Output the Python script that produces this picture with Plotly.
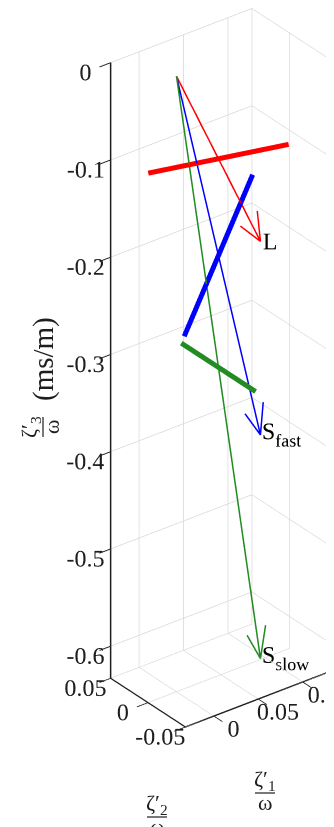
import numpy as np
import plotly.graph_objects as go

# ---------------- data ----------------
modes = ["L", "S<sub>fast</sub>", "S<sub>slow</sub>"]
zeta1 = [0.0945, 0.0945, 0.0945]       # ζ1'/ω of slowness tips
zeta2 = [0.0, 0.0, 0.0]                # ζ2'/ω
zeta3 = [-0.203, -0.402, -0.632]       # ζ3'/ω
pol1 = [0.079, 0.0385, 0.0]            # half polarization vectors
pol2 = [0.0, 0.0, -0.0497]
pol3 = [-0.0129, 0.0696, 0.0]
x_ticks = [0, 0.05, 0.1]
x_ticktext = ["0", "0.05", "0.1"]
y_ticks = [-0.05, 0, 0.05]
y_ticktext = ["-0.05", "0", "0.05"]
z_ticks = [0, -0.1, -0.2, -0.3, -0.4, -0.5, -0.6]
z_ticktext = ["0", "-0.1", "-0.2", "-0.3", "-0.4", "-0.5", "-0.6"]

# ---------------- style ----------------
colors = ["#ff0000", "#0000ff", "#228b22"]
head_len = 0.031
head_half = 0.0105
FONT = "Liberation Serif"
INK = "rgb(30,30,30)"
W, H = 334, 827

xr = [-0.032, 0.127]
yr = [-0.05, 0.05]
zr = [-0.633, 0.0]
# plot-box proportions (MATLAB default stretch) and zoom
box = np.array([177.3, 122.3, 707.7])
ZOOM = 1.719
asp = ZOOM * box / box[2]
kdat = asp / np.array([xr[1] - xr[0], yr[1] - yr[0], zr[1] - zr[0]])  # normalized per data unit
PPU = 415.0

# view: MATLAB az=-37.5, el=30
az, el = np.radians(-37.5), np.radians(30.0)
E = np.array([np.sin(az) * np.cos(el), -np.cos(az) * np.cos(el), np.sin(el)])
R = np.array([np.cos(az), np.sin(az), 0.0])
U = np.cross(E, R)
C = -(43.3 * R + 53.3 * U) / 410.0
eye = C + 1.6 * E

fig = go.Figure()
for i in range(3):
    tip = np.array([zeta1[i], zeta2[i], zeta3[i]])
    d = tip / np.linalg.norm(tip)
    perp = np.cross(d, [0.0, 1.0, 0.0])
    perp /= np.linalg.norm(perp)
    b1 = tip - head_len * d + head_half * perp
    b2 = tip - head_len * d - head_half * perp
    fig.add_trace(go.Scatter3d(x=[0, tip[0]], y=[0, tip[1]], z=[0, tip[2]],
                               mode="lines", line=dict(color=colors[i], width=3),
                               hoverinfo="skip", showlegend=False))
    fig.add_trace(go.Scatter3d(x=[b1[0], tip[0], b2[0]], y=[b1[1], tip[1], b2[1]],
                               z=[b1[2], tip[2], b2[2]],
                               mode="lines", line=dict(color=colors[i], width=3),
                               hoverinfo="skip", showlegend=False))
    mid = tip / 2
    p = np.array([pol1[i], pol2[i], pol3[i]])
    a, b = mid - p, mid + p
    fig.add_trace(go.Scatter3d(x=[a[0], b[0]], y=[a[1], b[1]], z=[a[2], b[2]],
                               mode="lines", line=dict(color=colors[i], width=10),
                               hoverinfo="skip", showlegend=False))
    # label: pull anchor back along screen-right so text starts at the tip
    lab = tip - (21.0 / PPU) * R / kdat
    fig.add_trace(go.Scatter3d(x=[lab[0]], y=[lab[1]], z=[lab[2]], mode="text",
                               text=[modes[i]], textposition="middle right",
                               textfont=dict(family=FONT, size=24, color="black"),
                               hoverinfo="skip", showlegend=False))

axis_common = dict(showbackground=False, gridcolor="rgb(214,214,214)", gridwidth=1.5,
                   showline=True, linecolor=INK, linewidth=3,
                   ticks="outside", ticklen=14, tickcolor=INK, tickwidth=2, tickangle=0,
                   tickfont=dict(family=FONT, size=17, color=INK),
                   zeroline=False, showspikes=False, tickmode="array",
                   title=dict(text=""))

def px(x, y):
    return x / W, 1 - y / H

annotations = []
shapes = []

def frac(num, cx, cy, rotated=False, size=22):
    if not rotated:
        nx, ny = px(cx, cy - 12)
        dx, dy = px(cx, cy + 10)
        ang = 0
        x0, y0 = px(cx - 10, cy + 1)
        x1, y1 = px(cx + 10, cy + 1)
    else:
        nx, ny = px(cx - 12, cy)
        dx, dy = px(cx + 9, cy)
        ang = -90
        x0, y0 = px(cx + 1, cy - 10)
        x1, y1 = px(cx + 1, cy + 10)
    for t, (tx, ty) in ((num, (nx, ny)), ("ω", (dx, dy))):
        annotations.append(dict(text=t, x=tx, y=ty, xref="paper", yref="paper",
                                xanchor="center", yanchor="middle", showarrow=False,
                                textangle=ang,
                                font=dict(family=FONT, size=size, color=INK)))
    shapes.append(dict(type="line", xref="paper", yref="paper", x0=x0, y0=y0,
                       x1=x1, y1=y1, line=dict(color=INK, width=1.2)))

frac("ζ′<sub>3</sub>", 34, 419, rotated=True)
ax_, ay_ = px(35, 351)
annotations.append(dict(text="(ms/m)", x=ax_, y=ay_, xref="paper", yref="paper",
                        xanchor="center", yanchor="middle", showarrow=False, textangle=-90,
                        font=dict(family=FONT, size=29, color=INK)))
frac("ζ′<sub>1</sub>", 257, 784)
frac("ζ′<sub>2</sub>", 149, 808)

fig.update_layout(
    width=W, height=H,
    margin=dict(l=0, r=0, t=0, b=0),
    paper_bgcolor="white",
    font=dict(family=FONT),
    scene=dict(
        domain=dict(x=[0, 1], y=[0, 1]),
        xaxis=dict(range=xr, tickvals=x_ticks, ticktext=x_ticktext, **axis_common),
        yaxis=dict(range=yr, tickvals=y_ticks, ticktext=y_ticktext, **axis_common),
        zaxis=dict(range=zr, tickvals=z_ticks, ticktext=z_ticktext, **axis_common),
        aspectmode="manual",
        aspectratio=dict(x=asp[0], y=asp[1], z=asp[2]),
        camera=dict(projection=dict(type="orthographic"),
                    eye=dict(x=eye[0], y=eye[1], z=eye[2]),
                    up=dict(x=0, y=0, z=1), center=dict(x=C[0], y=C[1], z=C[2])),
    ),
    annotations=annotations,
    shapes=shapes,
)

fig.write_html("out.html")
